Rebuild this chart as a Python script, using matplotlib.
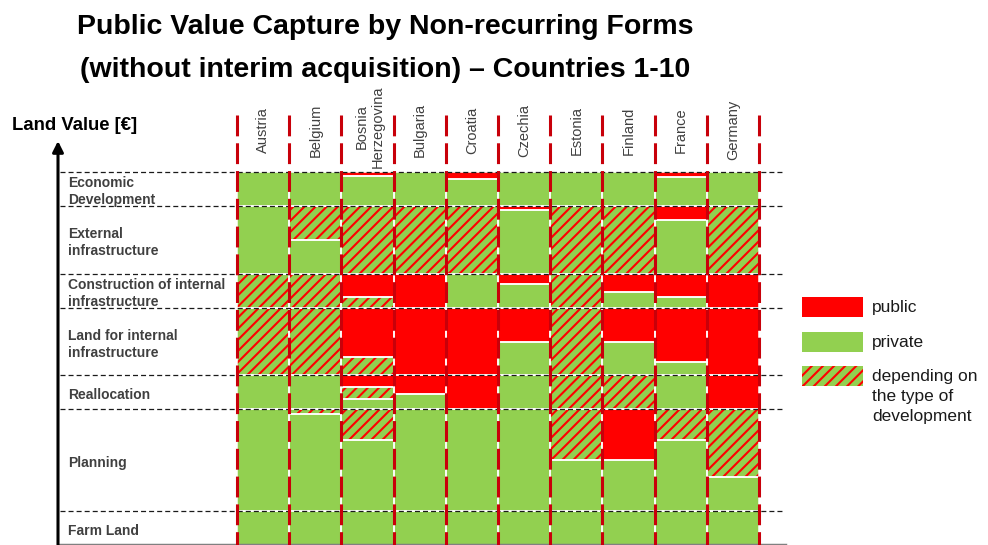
import matplotlib
matplotlib.use("Agg")
import numpy as np
import matplotlib.pyplot as plt
from matplotlib.patches import Rectangle

plt.rcParams['font.family'] = ['Liberation Sans', 'DejaVu Sans']
plt.rcParams['hatch.linewidth'] = 1.5
plt.rcParams['lines.scale_dashes'] = False

RED = '#FF0000'
GREEN = '#92D050'
DASH_RED = '#C8000A'
LABEL_GREY = '#404040'

countries = ["Austria", "Belgium", "Bosnia\nHerzegovina", "Bulgaria", "Croatia",
             "Czechia", "Estonia", "Finland", "France", "Germany"]

stages = ["Farm Land", "Planning", "Reallocation",
          "Land for internal\ninfrastructure",
          "Construction of internal\ninfrastructure",
          "External\ninfrastructure", "Economic\nDevelopment"]
stage_heights = [1, 3, 1, 2, 1, 2, 1]

# Value capture per country, stacked bottom-up: R = public, G = private,
# H = depending on the type of development
austria = [('G', 1), ('G', 3), ('G', 1), ('H', 2), ('H', 1), ('G', 2), ('G', 1)]
belgium = [('G', 1), ('G', 2.85), ('H', 0.15), ('G', 1), ('H', 2), ('H', 1),
           ('G', 1), ('H', 1), ('G', 1)]
bosnia = [('G', 1), ('G', 2.1), ('H', 0.9), ('G', 0.3), ('H', 0.35), ('R', 0.35),
          ('H', 0.55), ('R', 1.45), ('H', 0.3), ('R', 0.7), ('H', 2),
          ('G', 0.87), ('R', 0.13)]
bulgaria = [('G', 1), ('G', 3), ('G', 0.45), ('R', 0.55), ('R', 2), ('R', 1),
            ('H', 2), ('G', 1)]
croatia = [('G', 1), ('G', 3), ('R', 1), ('R', 2), ('G', 1), ('H', 2),
           ('G', 0.8), ('R', 0.2)]
czechia = [('G', 1), ('G', 3), ('G', 1), ('G', 1), ('R', 1), ('G', 0.7), ('R', 0.3),
           ('G', 1.88), ('R', 0.12), ('G', 1)]
estonia = [('G', 1), ('G', 1.5), ('H', 1.5), ('H', 1), ('H', 2), ('H', 1),
           ('H', 2), ('G', 1)]
finland = [('G', 1), ('G', 1.5), ('R', 1.5), ('H', 1), ('G', 1), ('R', 1),
           ('G', 0.45), ('R', 0.55), ('H', 2), ('G', 1)]
france = [('G', 1), ('G', 2.1), ('H', 0.9), ('G', 1), ('G', 0.4), ('R', 1.6),
          ('G', 0.3), ('R', 0.7), ('G', 1.6), ('R', 0.4), ('G', 0.85), ('R', 0.15)]
germany = [('G', 1), ('G', 1), ('H', 2), ('R', 1), ('R', 2), ('R', 1), ('H', 2),
           ('G', 1)]

columns = [austria, belgium, bosnia, bulgaria, croatia,
           czechia, estonia, finland, france, germany]

legend_labels = ["public", "private", "depending on\nthe type of\ndevelopment"]

fig = plt.figure(figsize=(9.88, 5.45), dpi=100)
W, H = 988, 545
ax = fig.add_axes([60 / W, 0, 725 / W, 455 / H])
ax.set_xlim(-3.391, 10.498)
ax.set_ylim(0, 13.42)

# stacked segments of each country column
for i, segs in enumerate(columns):
    bottom = 0.0
    for kind, h in segs:
        if kind == 'H':
            ax.bar(i, h, bottom=bottom, width=1, align='edge', color=GREEN,
                   edgecolor=RED, hatch='///', linewidth=0, zorder=1)
        else:
            ax.bar(i, h, bottom=bottom, width=1, align='edge',
                   color=RED if kind == 'R' else GREEN, linewidth=0, zorder=1)
        ax.bar(i, h, bottom=bottom, width=1, align='edge', fill=False,
               edgecolor='white', linewidth=1.1, zorder=2)
        bottom += h

# stage boundaries and stage names
bounds = np.cumsum(stage_heights)
ax.hlines(bounds, -3.391, 10.498, colors='#1a1a1a', linewidth=0.9,
          linestyles=(0, (3.6, 2.2)), zorder=3)
centers = bounds - np.array(stage_heights) / 2
for name, yc in zip(stages, centers):
    ax.text(-3.238, yc - 0.08, name, ha='left', va='center', fontsize=10,
            fontweight='bold', color=LABEL_GREY, linespacing=1.3)

# country separators and headers
col_top = 12.68
ax.vlines(np.arange(len(countries) + 1), col_top, 0, colors=DASH_RED,
          linewidth=2.2, linestyles=(0, (15, 5)), zorder=4)
for i, name in enumerate(countries):
    two_lines = "\n" in name
    ax.text(i + 0.54 if two_lines else i + 0.5, 12.33 if two_lines else 12.23,
            name, rotation=90, ha='center', va='center', fontsize=10.5,
            color=LABEL_GREY, linespacing=1.15, multialignment='center',
            zorder=5)

for s in ['top', 'left', 'right']:
    ax.spines[s].set_visible(False)
ax.spines['bottom'].set_color('#808080')
ax.spines['bottom'].set_linewidth(2.5)
ax.set_xticks([])
ax.set_yticks([])

# value axis arrow
ax.annotate('', xy=(58 / W, 1 - 141 / H), xytext=(58 / W, 0),
            xycoords='figure fraction', textcoords='figure fraction',
            arrowprops=dict(arrowstyle='-|>', lw=2.2, color='black',
                            mutation_scale=16, shrinkA=0, shrinkB=0),
            annotation_clip=False)
fig.text(12 / W, 1 - 125 / H, "Land Value [€]", ha='left', va='center',
         fontsize=13.3, fontweight='bold', color='black')

# title
fig.text(385 / W, 1 - 27 / H, "Public Value Capture by Non-recurring Forms",
         ha='center', va='center', fontsize=20.5, fontweight='bold')
fig.text(385 / W, 1 - 70 / H, "(without interim acquisition) – Countries 1-10",
         ha='center', va='center', fontsize=20.5, fontweight='bold')

# legend
leg_y = [297, 332, 366]
leg_styles = [dict(facecolor=RED, edgecolor='none'),
              dict(facecolor=GREEN, edgecolor='none'),
              dict(facecolor=GREEN, edgecolor=RED, hatch='///', linewidth=0)]
for y0, style, lab in zip(leg_y, leg_styles, legend_labels):
    fig.add_artist(Rectangle((802 / W, 1 - (y0 + 20) / H), 61 / W, 20 / H,
                             transform=fig.transFigure, **style))
    fig.text(872 / W, 1 - (y0 + 3) / H, lab, ha='left', va='top',
             fontsize=12.5, color='#1a1a1a', linespacing=1.42)

fig.savefig("out.png", dpi=100)
